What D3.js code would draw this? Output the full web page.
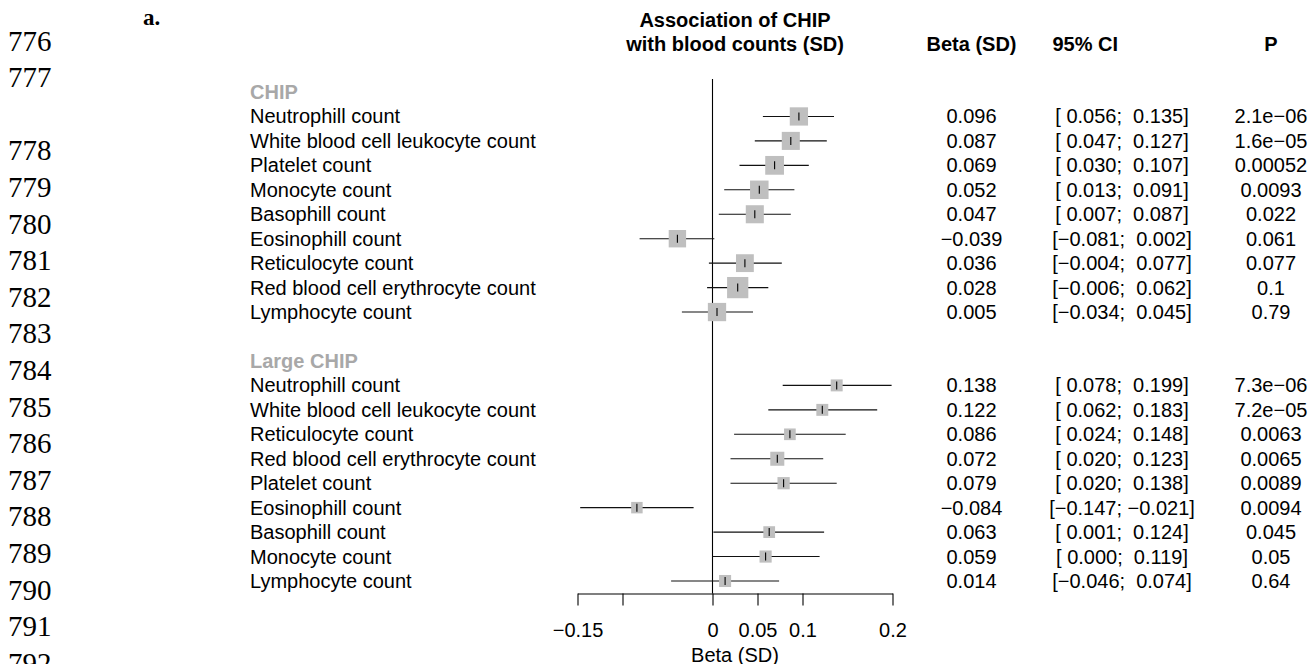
<!DOCTYPE html>
<html>
<head>
<meta charset="utf-8">
<script src="https://cdn.jsdelivr.net/npm/d3@7"></script>
<style>
  body { margin: 0; background: #fff; }
  svg text { font-family: "Liberation Sans", Arial, Helvetica, sans-serif; font-size: 20px; white-space: pre; }
  .axis text { font-family: "Liberation Sans", Arial, sans-serif; font-size: 20px; }
  .lineno { font-family: "Liberation Serif", "Times New Roman", serif; font-size: 29px; }
</style>
</head>
<body>
<svg id="chart" width="1311" height="664"></svg>
<script>

// manuscript line numbers down the left margin
var lineNumbers = [776, 777, 778, 779, 780, 781, 782, 783, 784, 785, 786, 787, 788, 789, 790, 791, 792];
var lineSlots   = [0, 1, 3, 4, 5, 6, 7, 8, 9, 10, 11, 12, 13, 14, 15, 16, 17];

var groupNames = ["CHIP", "Large CHIP"];

var chipTraits = ["Neutrophill count", "White blood cell leukocyte count", "Platelet count", "Monocyte count",
  "Basophill count", "Eosinophill count", "Reticulocyte count", "Red blood cell erythrocyte count", "Lymphocyte count"];
var chipBeta  = [0.096, 0.087, 0.069, 0.052, 0.047, -0.039, 0.036, 0.028, 0.005];
var chipLower = [0.056, 0.047, 0.030, 0.013, 0.007, -0.081, -0.004, -0.006, -0.034];
var chipUpper = [0.135, 0.127, 0.107, 0.091, 0.087, 0.002, 0.077, 0.062, 0.045];
var chipP     = ["2.1e\u221206", "1.6e\u221205", "0.00052", "0.0093", "0.022", "0.061", "0.077", "0.1", "0.79"];

var largeTraits = ["Neutrophill count", "White blood cell leukocyte count", "Reticulocyte count", "Red blood cell erythrocyte count",
  "Platelet count", "Eosinophill count", "Basophill count", "Monocyte count", "Lymphocyte count"];
var largeBeta  = [0.138, 0.122, 0.086, 0.072, 0.079, -0.084, 0.063, 0.059, 0.014];
var largeLower = [0.078, 0.062, 0.024, 0.020, 0.020, -0.147, 0.001, 0.000, -0.046];
var largeUpper = [0.199, 0.183, 0.148, 0.123, 0.138, -0.021, 0.124, 0.119, 0.074];
var largeP     = ["7.3e\u221206", "7.2e\u221205", "0.0063", "0.0065", "0.0089", "0.0094", "0.045", "0.05", "0.64"];

var xTicks      = [-0.15, -0.1, 0, 0.05, 0.1, 0.2];
var xTickLabels = ["\u22120.15", "", "0", "0.05", "0.1", "0.2"];

// build row list: header, 9 traits, blank, header, 9 traits
var rows = [];
function addGroup(name, traits, beta, lo, hi, p) {
  rows.push({type: "header", label: name});
  traits.forEach(function(t, i) {
    rows.push({type: "trait", label: t, beta: beta[i], lo: lo[i], hi: hi[i], p: p[i]});
  });
}
addGroup(groupNames[0], chipTraits, chipBeta, chipLower, chipUpper, chipP);
rows.push({type: "blank"});
addGroup(groupNames[1], largeTraits, largeBeta, largeLower, largeUpper, largeP);
rows.forEach(function(r, i) { r.idx = i; });
var traitRows = rows.filter(function(r) { return r.type == "trait"; });

var svg = d3.select("#chart");

var x = d3.scaleLinear().domain([-0.15, 0.2]).range([577.5, 892.5]);
var y = d3.scaleLinear().domain([0, rows.length - 1]).range([92, 581]);
// box side from precision 1/se (se from the 95% CI)
var box = d3.scaleLinear().domain([0, 60]).range([0, 22.1]);
var fmt = d3.format(".3f");
var axisY = 593.5;

// line numbers
var lineY = d3.scaleLinear().domain([0, 1]).range([50.5, 87.1]);
svg.append("g").selectAll("text")
  .data(lineNumbers)
  .enter().append("text")
  .attr("class", "lineno")
  .attr("x", 8)
  .attr("y", function(d, i) { return lineY(lineSlots[i]); })
  .text(function(d) { return d; });

svg.append("text")
  .attr("x", 143).attr("y", 25)
  .style("font-family", "'Liberation Serif', 'Times New Roman', serif")
  .style("font-size", "23px").style("font-weight", "bold")
  .text("a.");

// headers
var headG = svg.append("g").style("font-weight", "bold");
headG.append("text").attr("x", x(0.025)).attr("y", 27).attr("text-anchor", "middle").text("Association of CHIP");
headG.append("text").attr("x", x(0.025)).attr("y", 51).attr("text-anchor", "middle").text("with blood counts (SD)");
headG.append("text").attr("x", 971.5).attr("y", 50.5).attr("text-anchor", "middle").text("Beta (SD)");
headG.append("text").attr("x", 1052.5).attr("y", 50.5).text("95% CI");
headG.append("text").attr("x", 1271).attr("y", 50.5).attr("text-anchor", "middle").text("P");

// row labels
svg.append("g").selectAll("text")
  .data(rows.filter(function(r) { return r.type != "blank"; }))
  .enter().append("text")
  .attr("x", 250)
  .attr("y", function(d) { return y(d.idx) + 7; })
  .style("font-weight", function(d) { return d.type == "header" ? "bold" : "normal"; })
  .style("fill", function(d) { return d.type == "header" ? "#a8a8a8" : "#000"; })
  .text(function(d) { return d.label; });

// zero line
svg.append("line")
  .attr("x1", x(0)).attr("x2", x(0))
  .attr("y1", 79).attr("y2", axisY)
  .attr("stroke", "#000").attr("stroke-width", 1.1);

// CI lines, boxes, estimate ticks
var marks = svg.append("g").selectAll("g")
  .data(traitRows)
  .enter().append("g");

marks.append("line")
  .attr("x1", function(d) { return x(d.lo); })
  .attr("x2", function(d) { return x(d.hi); })
  .attr("y1", function(d) { return y(d.idx); })
  .attr("y2", function(d) { return y(d.idx); })
  .attr("stroke", "#111").attr("stroke-width", 1.1);

marks.append("rect")
  .attr("x", function(d) { return x(d.beta) - box(3.92 / (d.hi - d.lo)) / 2; })
  .attr("y", function(d) { return y(d.idx) - box(3.92 / (d.hi - d.lo)) / 2; })
  .attr("width", function(d) { return box(3.92 / (d.hi - d.lo)); })
  .attr("height", function(d) { return box(3.92 / (d.hi - d.lo)); })
  .attr("fill", "#bfbfbf");

marks.append("line")
  .attr("x1", function(d) { return x(d.beta); })
  .attr("x2", function(d) { return x(d.beta); })
  .attr("y1", function(d) { return y(d.idx) - 4; })
  .attr("y2", function(d) { return y(d.idx) + 4; })
  .attr("stroke", "#000").attr("stroke-width", 1.1);

// text columns
var cols = svg.append("g").selectAll("g")
  .data(traitRows)
  .enter().append("g");

cols.append("text")
  .attr("x", 971.5)
  .attr("y", function(d) { return y(d.idx) + 7; })
  .attr("text-anchor", "middle")
  .text(function(d) { return fmt(d.beta); });

cols.append("text")
  .attr("x", 1122)
  .attr("y", function(d) { return y(d.idx) + 7; })
  .attr("text-anchor", "middle")
  .text(function(d) {
    var a = fmt(d.lo), b = fmt(d.hi);
    return "[" + (d.lo < 0 ? "" : " ") + a + ";" + (d.hi < 0 ? " " : "  ") + b + "]";
  });

cols.append("text")
  .attr("x", 1271)
  .attr("y", function(d) { return y(d.idx) + 7; })
  .attr("text-anchor", "middle")
  .text(function(d) { return d.p; });

// x axis
var axis = svg.append("g")
  .attr("class", "axis")
  .attr("transform", "translate(0," + axisY + ")")
  .call(d3.axisBottom(x).tickValues(xTicks).tickSize(12).tickSizeOuter(0).tickPadding(17)
    .tickFormat(function(d, i) { return xTickLabels[i]; }));
axis.selectAll("path, line").attr("stroke", "#000").attr("stroke-width", 1.1);
axis.selectAll("text").attr("fill", "#000").style("font-size", "20px");

svg.append("text")
  .attr("x", x(0.025)).attr("y", 662)
  .attr("text-anchor", "middle")
  .text("Beta (SD)");

</script>
</body>
</html>
